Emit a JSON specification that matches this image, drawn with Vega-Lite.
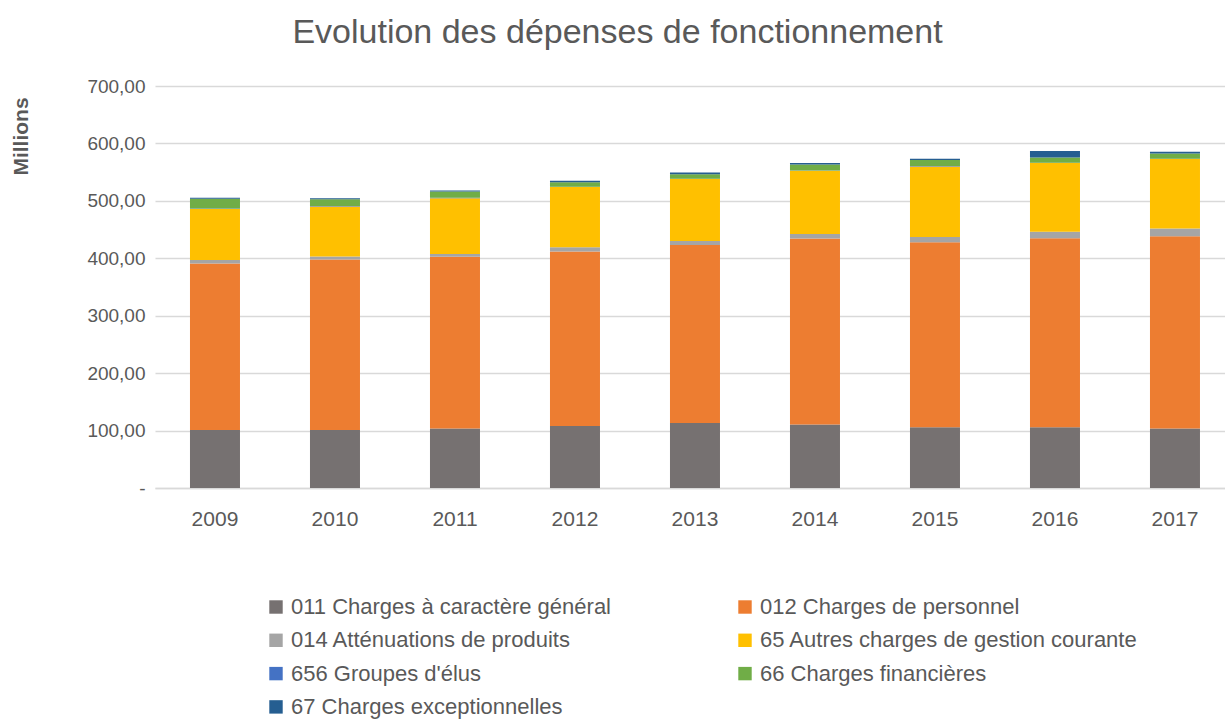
{
  "$schema": "https://vega.github.io/schema/vega-lite/v6.json",
  "width": 1070,
  "height": 402,
  "autosize": {"type": "none"},
  "padding": {"left": 155, "top": 86, "right": 0, "bottom": 231},
  "background": "white",
  "title": {
    "text": "Evolution des dépenses de fonctionnement",
    "fontSize": 34,
    "fontWeight": "normal",
    "color": "#595959",
    "font": "Liberation Sans, sans-serif",
    "anchor": "middle",
    "frame": "bounds",
    "offset": 27
  },
  "config": {
    "view": {"stroke": null},
    "font": "Liberation Sans, sans-serif"
  },
  "data": {
    "values": [
      {"year": "2009", "k": 1, "cat": "011 Charges à caractère général", "v": 101},
      {"year": "2009", "k": 2, "cat": "012 Charges de personnel", "v": 290},
      {"year": "2009", "k": 3, "cat": "014 Atténuations de produits", "v": 6},
      {"year": "2009", "k": 4, "cat": "65 Autres charges de gestion courante", "v": 89},
      {"year": "2009", "k": 5, "cat": "656 Groupes d'élus", "v": 0.5},
      {"year": "2009", "k": 6, "cat": "66 Charges financières", "v": 17},
      {"year": "2009", "k": 7, "cat": "67 Charges exceptionnelles", "v": 2},
      {"year": "2010", "k": 1, "cat": "011 Charges à caractère général", "v": 101},
      {"year": "2010", "k": 2, "cat": "012 Charges de personnel", "v": 297},
      {"year": "2010", "k": 3, "cat": "014 Atténuations de produits", "v": 5},
      {"year": "2010", "k": 4, "cat": "65 Autres charges de gestion courante", "v": 87},
      {"year": "2010", "k": 5, "cat": "656 Groupes d'élus", "v": 1},
      {"year": "2010", "k": 6, "cat": "66 Charges financières", "v": 12},
      {"year": "2010", "k": 7, "cat": "67 Charges exceptionnelles", "v": 1.5},
      {"year": "2011", "k": 1, "cat": "011 Charges à caractère général", "v": 103.5},
      {"year": "2011", "k": 2, "cat": "012 Charges de personnel", "v": 299},
      {"year": "2011", "k": 3, "cat": "014 Atténuations de produits", "v": 5},
      {"year": "2011", "k": 4, "cat": "65 Autres charges de gestion courante", "v": 97},
      {"year": "2011", "k": 5, "cat": "656 Groupes d'élus", "v": 1},
      {"year": "2011", "k": 6, "cat": "66 Charges financières", "v": 11},
      {"year": "2011", "k": 7, "cat": "67 Charges exceptionnelles", "v": 1.5},
      {"year": "2012", "k": 1, "cat": "011 Charges à caractère général", "v": 108},
      {"year": "2012", "k": 2, "cat": "012 Charges de personnel", "v": 304},
      {"year": "2012", "k": 3, "cat": "014 Atténuations de produits", "v": 7},
      {"year": "2012", "k": 4, "cat": "65 Autres charges de gestion courante", "v": 105},
      {"year": "2012", "k": 5, "cat": "656 Groupes d'élus", "v": 0.5},
      {"year": "2012", "k": 6, "cat": "66 Charges financières", "v": 8},
      {"year": "2012", "k": 7, "cat": "67 Charges exceptionnelles", "v": 2.5},
      {"year": "2013", "k": 1, "cat": "011 Charges à caractère général", "v": 113},
      {"year": "2013", "k": 2, "cat": "012 Charges de personnel", "v": 310},
      {"year": "2013", "k": 3, "cat": "014 Atténuations de produits", "v": 7},
      {"year": "2013", "k": 4, "cat": "65 Autres charges de gestion courante", "v": 108},
      {"year": "2013", "k": 5, "cat": "656 Groupes d'élus", "v": 0.5},
      {"year": "2013", "k": 6, "cat": "66 Charges financières", "v": 8},
      {"year": "2013", "k": 7, "cat": "67 Charges exceptionnelles", "v": 3},
      {"year": "2014", "k": 1, "cat": "011 Charges à caractère général", "v": 110.5},
      {"year": "2014", "k": 2, "cat": "012 Charges de personnel", "v": 324},
      {"year": "2014", "k": 3, "cat": "014 Atténuations de produits", "v": 8},
      {"year": "2014", "k": 4, "cat": "65 Autres charges de gestion courante", "v": 110},
      {"year": "2014", "k": 5, "cat": "656 Groupes d'élus", "v": 0.5},
      {"year": "2014", "k": 6, "cat": "66 Charges financières", "v": 10.5},
      {"year": "2014", "k": 7, "cat": "67 Charges exceptionnelles", "v": 2.5},
      {"year": "2015", "k": 1, "cat": "011 Charges à caractère général", "v": 106},
      {"year": "2015", "k": 2, "cat": "012 Charges de personnel", "v": 322},
      {"year": "2015", "k": 3, "cat": "014 Atténuations de produits", "v": 9},
      {"year": "2015", "k": 4, "cat": "65 Autres charges de gestion courante", "v": 123},
      {"year": "2015", "k": 5, "cat": "656 Groupes d'élus", "v": 0.5},
      {"year": "2015", "k": 6, "cat": "66 Charges financières", "v": 10.5},
      {"year": "2015", "k": 7, "cat": "67 Charges exceptionnelles", "v": 2.5},
      {"year": "2016", "k": 1, "cat": "011 Charges à caractère général", "v": 106},
      {"year": "2016", "k": 2, "cat": "012 Charges de personnel", "v": 329},
      {"year": "2016", "k": 3, "cat": "014 Atténuations de produits", "v": 11},
      {"year": "2016", "k": 4, "cat": "65 Autres charges de gestion courante", "v": 120},
      {"year": "2016", "k": 5, "cat": "656 Groupes d'élus", "v": 0.5},
      {"year": "2016", "k": 6, "cat": "66 Charges financières", "v": 9},
      {"year": "2016", "k": 7, "cat": "67 Charges exceptionnelles", "v": 11.5},
      {"year": "2017", "k": 1, "cat": "011 Charges à caractère général", "v": 103.5},
      {"year": "2017", "k": 2, "cat": "012 Charges de personnel", "v": 335},
      {"year": "2017", "k": 3, "cat": "014 Atténuations de produits", "v": 13.4},
      {"year": "2017", "k": 4, "cat": "65 Autres charges de gestion courante", "v": 121},
      {"year": "2017", "k": 5, "cat": "656 Groupes d'élus", "v": 0.5},
      {"year": "2017", "k": 6, "cat": "66 Charges financières", "v": 9},
      {"year": "2017", "k": 7, "cat": "67 Charges exceptionnelles", "v": 3}
    ]
  },
  "mark": {"type": "bar"},
  "encoding": {
    "x": {
      "field": "year",
      "type": "ordinal",
      "scale": {"paddingInner": 0.5833, "paddingOuter": 0.25, "align": 0.583},
      "axis": {
        "title": null,
        "labelAngle": 0,
        "labelFontSize": 21,
        "labelColor": "#595959",
        "labelPadding": 20,
        "ticks": false,
        "domain": true,
        "domainColor": "#d9d9d9",
        "domainWidth": 1.5
      }
    },
    "y": {
      "field": "v",
      "type": "quantitative",
      "stack": "zero",
      "scale": {"domain": [0, 700], "nice": false},
      "axis": {
        "title": "Millions",
        "titleFontSize": 21,
        "titleFontWeight": "bold",
        "titleColor": "#595959",
        "titleAngle": -90,
        "titleX": -134,
        "titleY": 50,
        "titleAlign": "center",
        "titleBaseline": "middle",
        "values": [0, 100, 200, 300, 400, 500, 600, 700],
        "labelExpr": "datum.value == 0 ? '-' : replace(format(datum.value, '.2f'), '.', ',')",
        "labelFontSize": 19,
        "labelColor": "#595959",
        "labelPadding": 10,
        "ticks": false,
        "domain": false,
        "grid": true,
        "gridColor": "#d9d9d9",
        "gridWidth": 1.5
      }
    },
    "order": {"field": "k", "type": "quantitative", "sort": "ascending"},
    "color": {
      "field": "cat",
      "type": "nominal",
      "sort": [
        "011 Charges à caractère général",
        "012 Charges de personnel",
        "014 Atténuations de produits",
        "65 Autres charges de gestion courante",
        "656 Groupes d'élus",
        "66 Charges financières",
        "67 Charges exceptionnelles"
      ],
      "scale": {
        "domain": [
          "011 Charges à caractère général",
          "012 Charges de personnel",
          "014 Atténuations de produits",
          "65 Autres charges de gestion courante",
          "656 Groupes d'élus",
          "66 Charges financières",
          "67 Charges exceptionnelles"
        ],
        "range": ["#767171", "#ED7D31", "#A5A5A5", "#FFC000", "#4472C4", "#70AD47", "#255E91"]
      },
      "legend": {
        "title": null,
        "orient": "none",
        "legendX": 110,
        "legendY": 510,
        "direction": "horizontal",
        "columns": 2,
        "columnPadding": 122,
        "rowPadding": 11.3,
        "symbolType": "square",
        "symbolSize": 180,
        "symbolStrokeWidth": 0,
        "symbolOpacity": 1,
        "labelFontSize": 22,
        "labelColor": "#595959",
        "labelLimit": 600,
        "labelOffset": 4
      }
    }
  }
}
